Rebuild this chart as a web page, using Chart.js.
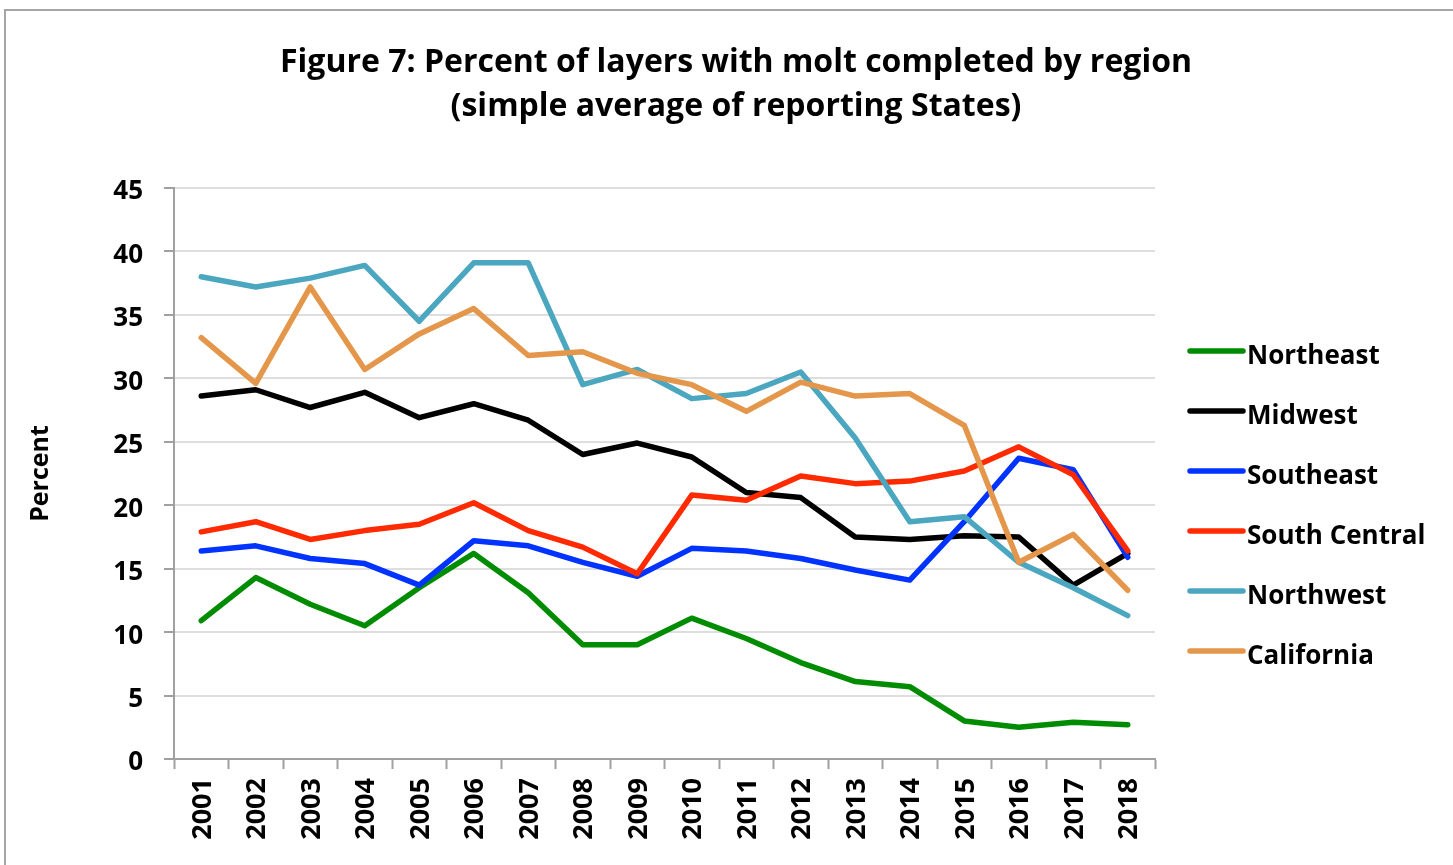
<!DOCTYPE html>
<html>
<head>
<meta charset="utf-8">
<script src="https://cdn.jsdelivr.net/npm/chart.js@4.4.1/dist/chart.umd.min.js"></script>
<style>
  html, body { margin: 0; padding: 0; background: #ffffff; }
  #wrap { position: relative; width: 1453px; height: 865px; }
</style>
</head>
<body>
<div id="wrap"><canvas id="c"></canvas></div>
<script>
const years = ['2001','2002','2003','2004','2005','2006','2007','2008','2009','2010','2011','2012','2013','2014','2015','2016','2017','2018'];
const titleLines = ['Figure 7: Percent of layers with molt completed by region', '(simple average of reporting States)'];
const yTitle = 'Percent';
const seriesNames = ['Northeast', 'Midwest', 'Southeast', 'South Central', 'Northwest', 'California'];
const seriesColors = ['#008c00', '#000000', '#0033ff', '#ff2a00', '#4ba6bf', '#e4964a'];

const northeast    = [10.9, 14.3, 12.2, 10.5, 13.5, 16.2, 13.1, 9.0, 9.0, 11.1, 9.5, 7.6, 6.1, 5.7, 3.0, 2.5, 2.9, 2.7];
const midwest      = [28.6, 29.1, 27.7, 28.9, 26.9, 28.0, 26.7, 24.0, 24.9, 23.8, 21.0, 20.6, 17.5, 17.3, 17.6, 17.5, 13.7, 16.2];
const southeast    = [16.4, 16.8, 15.8, 15.4, 13.7, 17.2, 16.8, 15.5, 14.4, 16.6, 16.4, 15.8, 14.9, 14.1, 18.7, 23.7, 22.8, 15.9];
const southCentral = [17.9, 18.7, 17.3, 18.0, 18.5, 20.2, 18.0, 16.7, 14.6, 20.8, 20.4, 22.3, 21.7, 21.9, 22.7, 24.6, 22.4, 16.4];
const northwest    = [38.0, 37.2, 37.9, 38.9, 34.5, 39.1, 39.1, 29.5, 30.7, 28.4, 28.8, 30.5, 25.3, 18.7, 19.1, 15.5, 13.5, 11.3];
const california   = [33.2, 29.6, 37.2, 30.7, 33.5, 35.5, 31.8, 32.1, 30.4, 29.5, 27.4, 29.7, 28.6, 28.8, 26.3, 15.5, 17.7, 13.3];
const seriesValues = [northeast, midwest, southeast, southCentral, northwest, california];

const FONT = '"Open Sans", "Liberation Sans", sans-serif';

const framePlugin = {
  id: 'frameAndTitle',
  beforeDraw(chart) {
    const ctx = chart.ctx;
    ctx.save();
    ctx.strokeStyle = '#a6a6a6';
    ctx.lineWidth = 2;
    ctx.beginPath();
    ctx.moveTo(5, chart.height + 5);
    ctx.lineTo(5, 10);
    ctx.lineTo(chart.width + 5, 10);
    ctx.stroke();
    ctx.restore();
  },
  afterDraw(chart) {
    const ctx = chart.ctx;
    ctx.save();
    // Title
    ctx.fillStyle = '#000';
    ctx.font = 'bold 32px ' + FONT;
    ctx.textAlign = 'center';
    ctx.textBaseline = 'alphabetic';
    ctx.fillText(titleLines[0], 736, 72);
    ctx.fillText(titleLines[1], 736, 116);
    // Legend
    const ds = chart.data.datasets;
    ctx.font = 'bold 26px ' + FONT;
    ctx.textAlign = 'left';
    ds.forEach((d, i) => {
      const y = 351 + 60 * i;
      ctx.strokeStyle = d.borderColor;
      ctx.lineWidth = 5.5;
      ctx.lineCap = 'round';
      ctx.beginPath();
      ctx.moveTo(1190, y);
      ctx.lineTo(1243, y);
      ctx.stroke();
      ctx.fillStyle = '#000';
      ctx.fillText(d.label, 1247, y + 13);
    });
    ctx.restore();
  }
};

const datasets = seriesNames.map((name, i) => ({
  label: name,
  data: seriesValues[i],
  borderColor: seriesColors[i],
  backgroundColor: seriesColors[i],
  borderWidth: 5.5,
  pointRadius: 0,
  pointHoverRadius: 0,
  tension: 0,
  fill: false,
  borderCapStyle: 'round',
  borderJoinStyle: 'round',
  order: seriesNames.length - i
}));

new Chart(document.getElementById('c'), {
  type: 'line',
  data: { labels: years, datasets },
  options: {
    responsive: true,
    maintainAspectRatio: false,
    animation: false,
    devicePixelRatio: 1,
    layout: { padding: { left: 20, right: 298, top: 188, bottom: 0 } },
    plugins: {
      legend: { display: false },
      title: { display: false },
      tooltip: { enabled: false }
    },
    scales: {
      x: {
        type: 'category',
        offset: true,
        grid: {
          offset: true,
          drawOnChartArea: false,
          drawTicks: true,
          tickLength: 10,
          tickColor: '#a0a0a0',
          tickWidth: 2
        },
        border: { display: true, color: '#a0a0a0', width: 2 },
        ticks: {
          color: '#000',
          font: { family: FONT, size: 27, weight: 'bold' },
          minRotation: 90,
          maxRotation: 90,
          padding: 9,
          labelOffset: 2,
          autoSkip: false
        },
        afterFit(scale) { scale.height = 865 - 759; }
      },
      y: {
        min: 0,
        max: 45,
        grid: {
          color: '#dedede',
          lineWidth: 2,
          drawTicks: true,
          tickLength: 10,
          tickColor: '#a0a0a0',
          tickWidth: 2
        },
        border: { display: true, color: '#a0a0a0', width: 2 },
        ticks: {
          stepSize: 5,
          color: '#000',
          font: { family: FONT, size: 26, weight: 'bold' },
          padding: 21,
          labelOffset: 4
        },
        title: {
          display: true,
          text: yTitle,
          color: '#000',
          font: { family: FONT, size: 25, weight: 'bold' },
          padding: { top: 6, bottom: 0 }
        },
        afterFit(scale) { scale.width = 174 - 20; }
      }
    }
  },
  plugins: [framePlugin]
});
</script>
</body>
</html>
